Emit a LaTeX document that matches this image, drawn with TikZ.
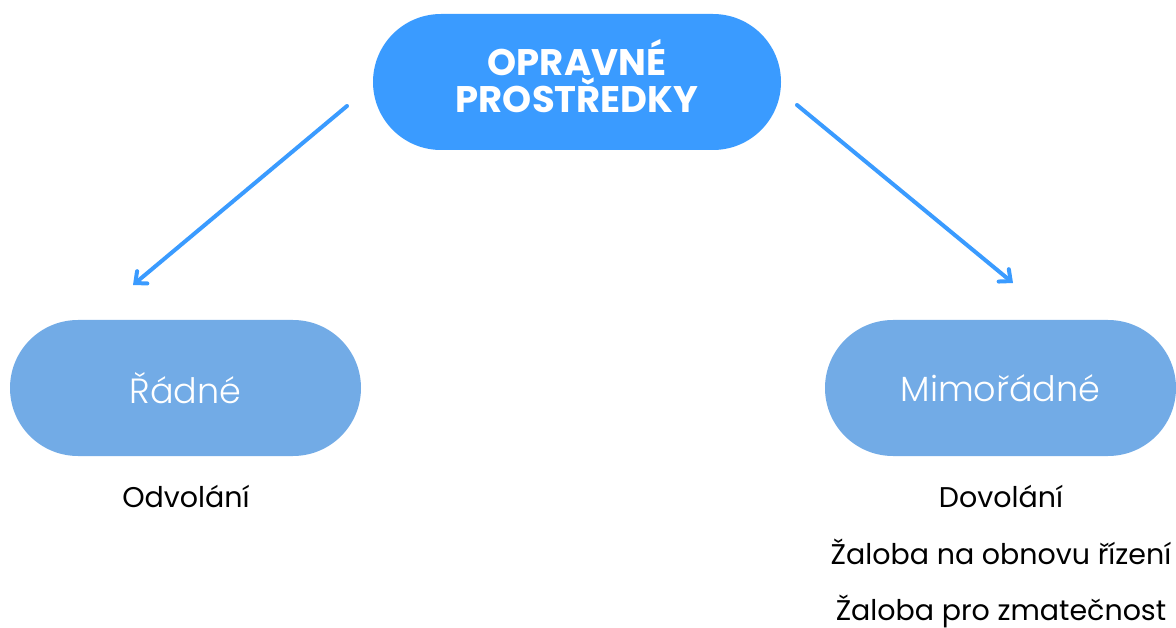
\documentclass[tikz,border=0pt]{standalone}
\usepackage{fontspec}
\setmainfont{Poppins}
\newfontfamily\lightfont{Poppins Light}
\newfontfamily\boldfont{Poppins Bold}
\usetikzlibrary{arrows.meta}
\definecolor{topblue}{RGB}{58,155,255}
\definecolor{subblue}{RGB}{114,171,230}
\definecolor{arrowblue}{RGB}{58,155,255}
\tikzset{
  pill/.style={rounded corners=68pt, minimum height=136pt, inner sep=0pt, align=center},
  mainbox/.style={pill, fill=topblue, minimum width=408pt, text=white,
    font=\boldfont\fontsize{37}{37}\selectfont},
  kindbox/.style={pill, fill=subblue, minimum width=351pt, text=white,
    font=\lightfont\fontsize{35}{40}\selectfont},
  item/.style={text=black, font=\fontsize{28.5}{32}\selectfont, inner sep=0pt, anchor=base},
  link/.style={draw=arrowblue, line width=4pt, line cap=round,
    -{Straight Barb[length=9pt,width=16pt,line cap=round]}}
}
\begin{document}
\begin{tikzpicture}[x=1pt,y=-1pt]
  \useasboundingbox (0,0) rectangle (1176,628);
  \node[mainbox] (top) at (577,82) {OPRAVNÉ\\PROSTŘEDKY\rule[-12pt]{0pt}{1pt}};
  \node[kindbox] (radne) at (185.5,388) {Řádné};
  \node[kindbox] (mimo) at (1000.5,388) {Mimořádné};
  \node[item] (odv) at (186,507) {Odvolání};
  \node[item] (dov) at (1001,507) {Dovolání};
  \node[item] (obn) at (1001,564) {Žaloba na obnovu řízení};
  \node[item] (zma) at (1001,620) {Žaloba pro zmatečnost};
  \coordinate (lstart) at (347,106);
  \coordinate (lend) at (133,285);
  \coordinate (rstart) at (797,105);
  \coordinate (rend) at (1013,283);
  \draw[link] (lstart) -- (lend);
  \draw[link] (rstart) -- (rend);
\end{tikzpicture}
\end{document}
